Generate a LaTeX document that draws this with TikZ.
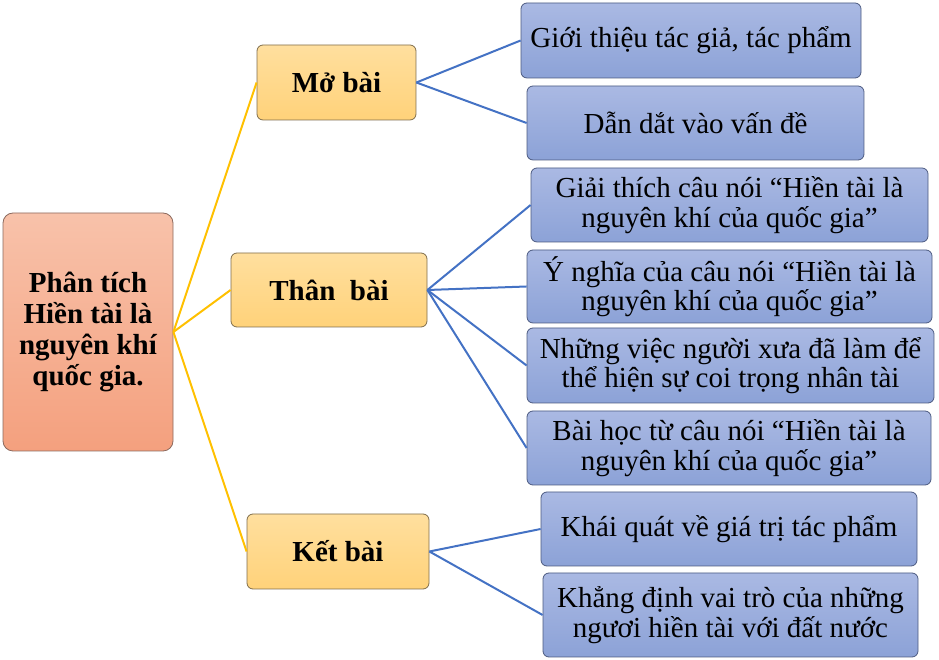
\documentclass[tikz,border=0pt]{standalone}
\usepackage{fontspec}
\setmainfont{Liberation Serif}
\definecolor{roottop}{HTML}{F8C2AA}
\definecolor{rootbot}{HTML}{F4A07E}
\definecolor{rootline}{HTML}{8C6A5E}
\definecolor{midtop}{HTML}{FFDF9E}
\definecolor{midbot}{HTML}{FFD27A}
\definecolor{midline}{HTML}{7F6D4C}
\definecolor{leaftop}{HTML}{AAB9E3}
\definecolor{leafbot}{HTML}{8CA2D7}
\definecolor{leafline}{HTML}{4C5A80}
\definecolor{ylw}{HTML}{FFC000}
\definecolor{blu}{HTML}{4472C4}
\begin{document}
\begin{tikzpicture}[x=0.75pt,y=0.75pt,
  rootbox/.style={draw=rootline, line width=0.6pt, rounded corners=7.5pt, top color=roottop, bottom color=rootbot, inner sep=0pt, align=center, font=\fontsize{21.75}{23.25}\selectfont\bfseries},
  midbox/.style={draw=midline, line width=0.6pt, rounded corners=4.5pt, top color=midtop, bottom color=midbot, inner sep=0pt, align=center, font=\fontsize{21.75}{22}\selectfont\bfseries},
  leafbox/.style={draw=leafline, line width=0.6pt, rounded corners=4.5pt, top color=leaftop, bottom color=leafbot, inner sep=0pt, align=center, font=\fontsize{21.75}{22}\selectfont},
  ylink/.style={draw=ylw, line width=1.5pt},
  blink/.style={draw=blu, line width=1.5pt}]
\useasboundingbox (0,0) rectangle (939,660);
% root
\node[rootbox, minimum width=127.5pt, minimum height=178.5pt] (root) at (88,328) {Phân tích\\Hiền tài là\\nguyên khí\\quốc gia.};
% middle
\node[midbox, minimum width=119.25pt, minimum height=56.25pt] (mo) at (336.5,577.5) {Mở bài};
\node[midbox, minimum width=147pt, minimum height=55.5pt] (than) at (329,370) {Thân\ \ bài};
\node[midbox, minimum width=136.5pt, minimum height=56.25pt] (ket) at (338,108.5) {Kết bài};
% leaves
\node[leafbox, minimum width=255pt, minimum height=56.25pt] (l1) at (691,619.5) {Giới thiệu tác giả, tác phẩm};
\node[leafbox, minimum width=252.75pt, minimum height=55.5pt] (l2) at (695.5,537) {Dẫn dắt vào vấn đề};
\node[leafbox, minimum width=297.75pt, minimum height=55.5pt] (l3) at (729.5,455) {Giải thích câu nói “Hiền tài là\\nguyên khí của quốc gia”};
\node[leafbox, minimum width=303.75pt, minimum height=54.75pt] (l4) at (729.5,373.5) {Ý nghĩa của câu nói “Hiền tài là\\nguyên khí của quốc gia”};
\node[leafbox, minimum width=305.25pt, minimum height=56.25pt] (l5) at (730.5,294.5) {Những việc người xưa đã làm để\\thể hiện sự coi trọng nhân tài};
\node[leafbox, minimum width=303pt, minimum height=55.5pt] (l6) at (729,212) {Bài học từ câu nói “Hiền tài là\\nguyên khí của quốc gia”};
\node[leafbox, minimum width=282pt, minimum height=55.5pt] (l7) at (729,131) {Khái quát về giá trị tác phẩm};
\node[leafbox, minimum width=281.25pt, minimum height=63pt] (l8) at (730.5,45) {Khẳng định vai trò của những\\ngươi hiền tài với đất nước};
% connectors
\draw[ylink] (root.east) -- (mo.west);
\draw[ylink] (root.east) -- (than.west);
\draw[ylink] (root.east) -- (ket.west);
\foreach \t in {l1,l2} \draw[blink] (mo.east) -- (\t.west);
\foreach \t in {l3,l4,l5,l6} \draw[blink] (than.east) -- (\t.west);
\foreach \t in {l7,l8} \draw[blink] (ket.east) -- (\t.west);
\end{tikzpicture}
\end{document}
